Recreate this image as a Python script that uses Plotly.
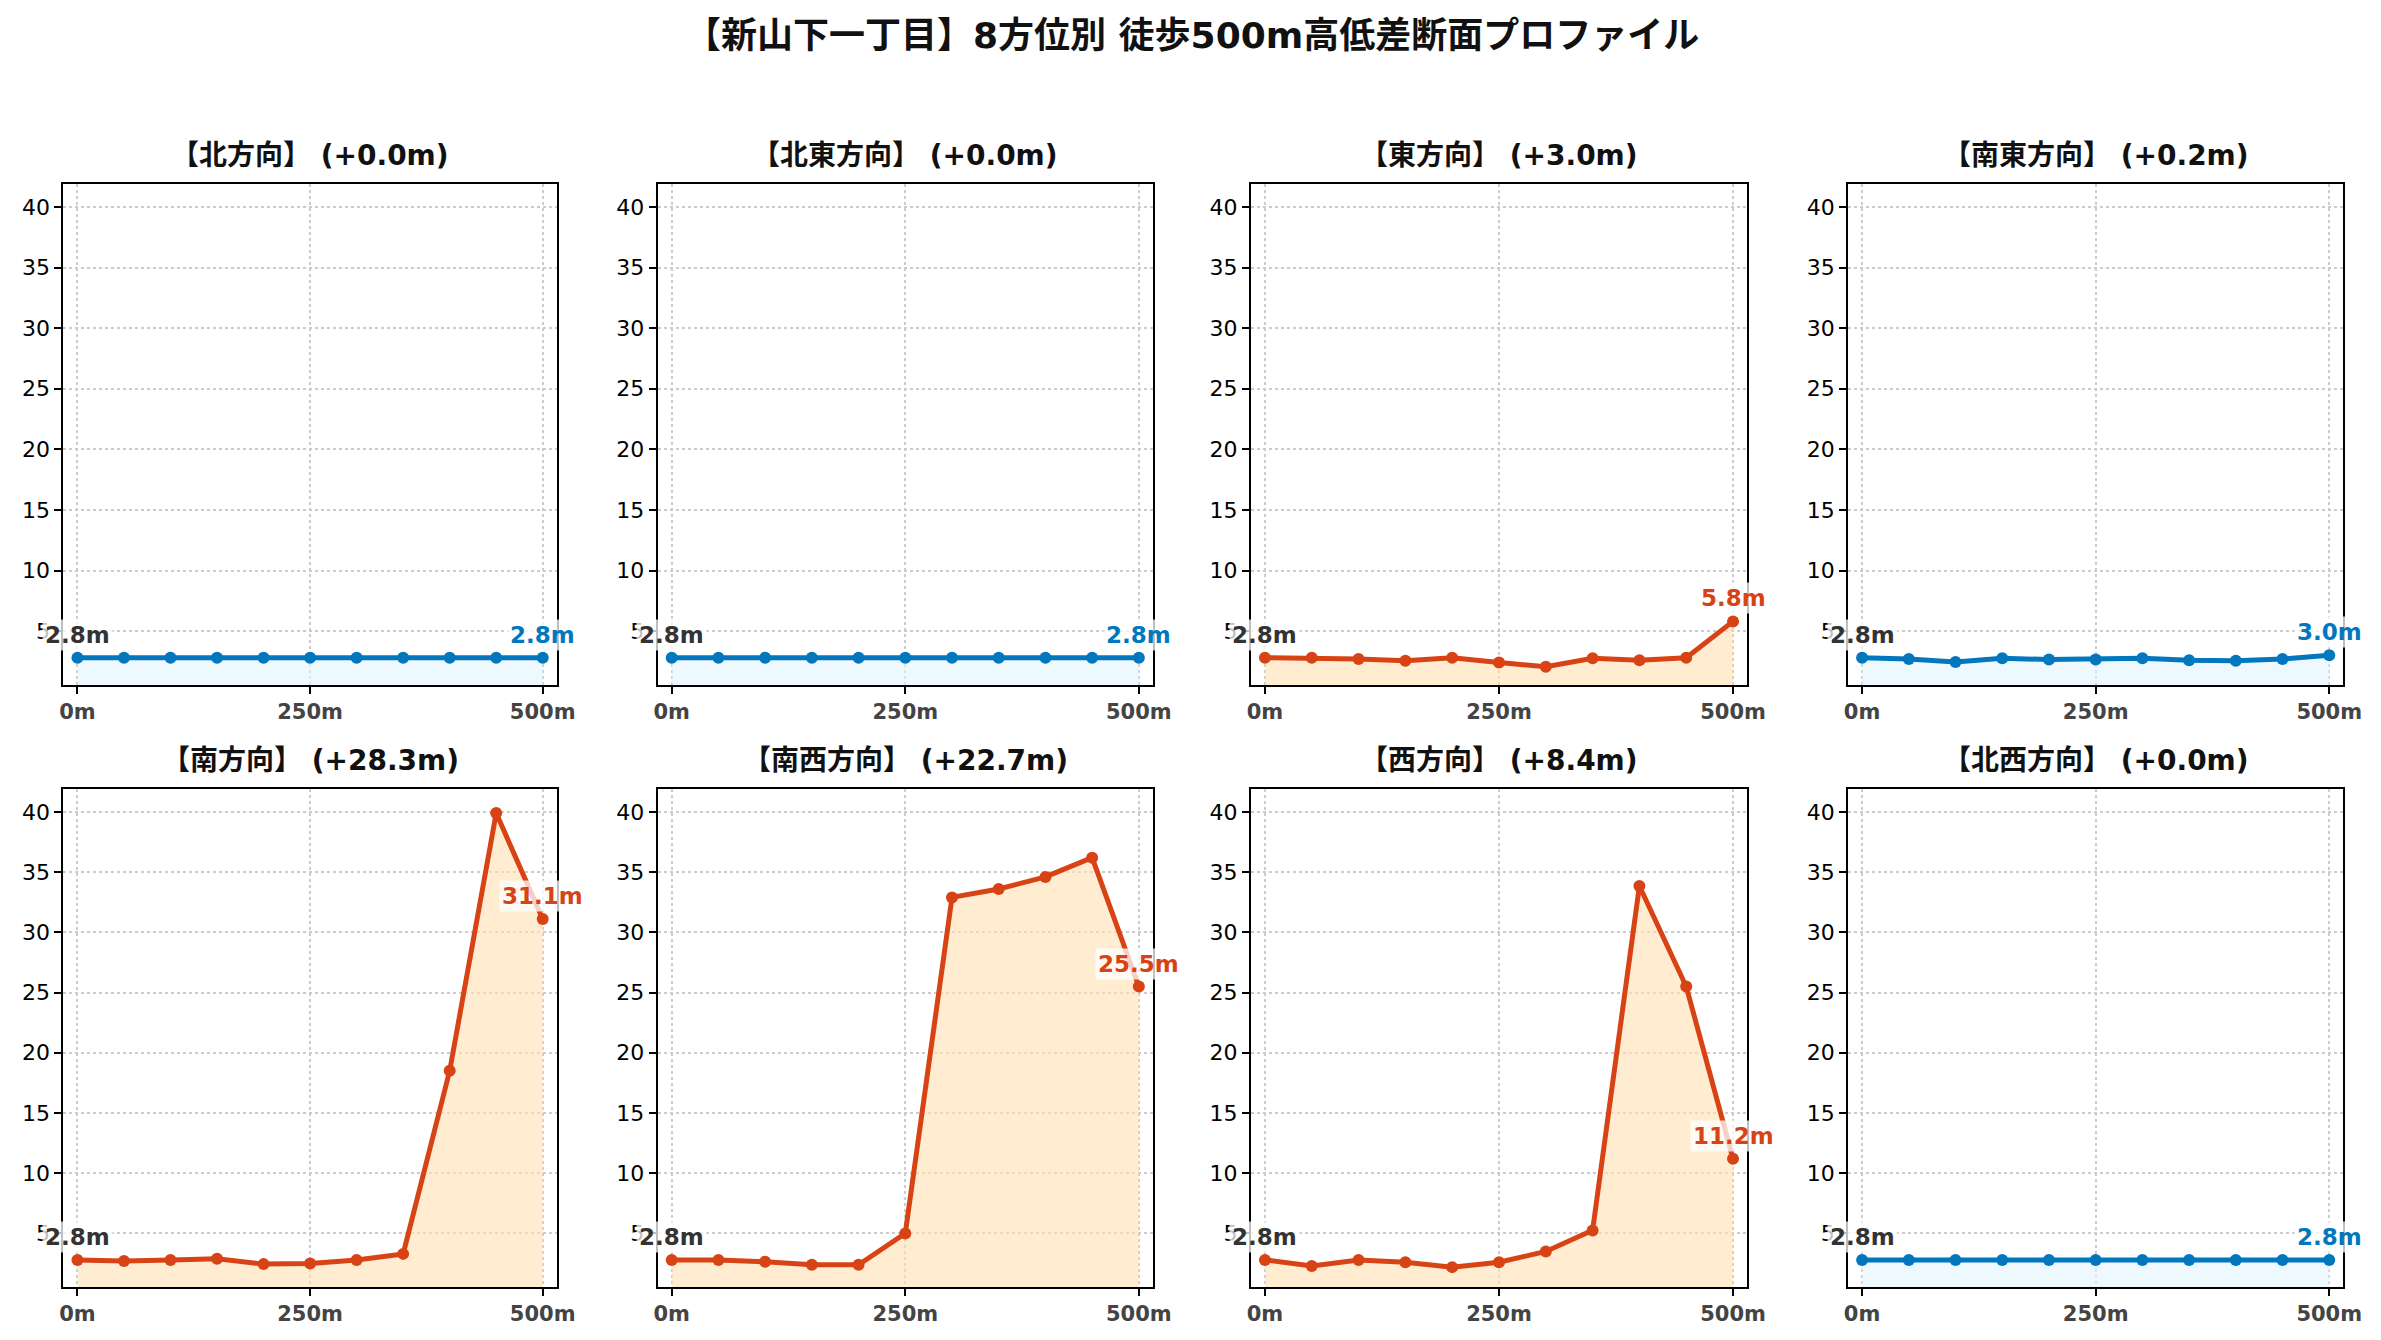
import plotly.graph_objects as go

# Distances along each walking line (m)
distances = [0, 50, 100, 150, 200, 250, 300, 350, 400, 450, 500]

# Elevation (m)
north = [2.8, 2.8, 2.8, 2.8, 2.8, 2.8, 2.8, 2.8, 2.8, 2.8, 2.8]
northeast = [2.8, 2.8, 2.8, 2.8, 2.8, 2.8, 2.8, 2.8, 2.8, 2.8, 2.8]
east = [2.8, 2.8, 2.7, 2.55, 2.8, 2.4, 2.05, 2.75, 2.6, 2.8, 5.8]
southeast = [2.8, 2.7, 2.45, 2.75, 2.65, 2.65, 2.75, 2.6, 2.55, 2.7, 3.0]
south = [2.8, 2.7, 2.8, 2.9, 2.45, 2.5, 2.8, 3.3, 18.5, 39.9, 31.1]
southwest = [2.8, 2.8, 2.65, 2.4, 2.4, 5.0, 32.9, 33.6, 34.6, 36.2, 25.5]
west = [2.8, 2.3, 2.8, 2.6, 2.2, 2.6, 3.5, 5.25, 33.85, 25.5, 11.2]
northwest = [2.8, 2.8, 2.8, 2.8, 2.8, 2.8, 2.8, 2.8, 2.8, 2.8, 2.8]

direction_names = ["北", "北東", "東", "南東", "南", "南西", "西", "北西"]
profiles = [north, northeast, east, southeast, south, southwest, west, northwest]

x_tickvals = [0, 250, 500]
x_ticktext = ["0m", "250m", "500m"]
y_tickvals = [5, 10, 15, 20, 25, 30, 35, 40]

title_text = "【新山下一丁目】8方位別 徒歩500m高低差断面プロファイル"

FONT = "DejaVu Sans, Noto Sans CJK JP, sans-serif"
UP_LINE = "#D84315"
UP_FILL = "rgba(255, 224, 178, 0.6)"
FLAT_LINE = "#0277BD"
FLAT_FILL = "rgba(225, 245, 254, 0.6)"

W, H = 2381, 1340
PAGE_OFFSET = 8  # default body margin of the html page


def px_x(px):
    return (px - PAGE_OFFSET) / W


def px_y(py):
    return 1 - (py - PAGE_OFFSET) / H


# panel placement in screen pixels
col_px = [(60, 558), (660, 1160), (1259, 1760), (1862, 2362)]
row_px = [(184, 685), (789, 1287)]

fig = go.Figure()
annotations = []

for i, (name, elev) in enumerate(zip(direction_names, profiles)):
    row, col = divmod(i, 4)
    n = i + 1
    xname = "x" if n == 1 else f"x{n}"
    yname = "y" if n == 1 else f"y{n}"

    gain = elev[-1] - elev[0]
    if gain >= 1.0:
        line_color, fill_color = UP_LINE, UP_FILL
    else:
        line_color, fill_color = FLAT_LINE, FLAT_FILL

    fig.add_trace(go.Scatter(
        x=distances,
        y=elev,
        mode="lines+markers",
        line=dict(color=line_color, width=5),
        marker=dict(color=line_color, size=12),
        fill="tozeroy",
        fillcolor=fill_color,
        xaxis=xname,
        yaxis=yname,
        showlegend=False,
    ))

    dom_x = [px_x(col_px[col][0]), px_x(col_px[col][1])]
    dom_y = [px_y(row_px[row][1]), px_y(row_px[row][0])]

    fig.update_layout({
        ("xaxis" if n == 1 else f"xaxis{n}"): dict(
            domain=dom_x, anchor=yname, range=[-15, 515],
            tickvals=x_tickvals, ticktext=x_ticktext,
            tickfont=dict(family=FONT, size=21, color="#444444", weight="bold"),
            showline=True, mirror=True, linecolor="black", linewidth=2,
            ticks="outside", ticklen=7, tickwidth=1.5, tickcolor="black",
            showgrid=True, gridcolor="#cccccc", gridwidth=1.5, griddash="dot",
            zeroline=False,
        ),
        ("yaxis" if n == 1 else f"yaxis{n}"): dict(
            domain=dom_y, anchor=xname, range=[0.55, 41.9],
            tickvals=y_tickvals,
            tickfont=dict(family=FONT, size=22, color="black"),
            showline=True, mirror=True, linecolor="black", linewidth=2,
            ticks="outside", ticklen=7, tickwidth=1.5, tickcolor="black",
            showgrid=True, gridcolor="#cccccc", gridwidth=1.5, griddash="dot",
            zeroline=False,
        ),
    })

    # panel title
    annotations.append(dict(
        text=f"【{name}方向】 (+{gain:.1f}m)",
        x=(dom_x[0] + dom_x[1]) / 2, y=dom_y[1], xref="paper", yref="paper",
        xanchor="center", yanchor="bottom", yshift=10, showarrow=False,
        font=dict(family=FONT, size=28, color="#111111", weight="bold"),
    ))

    # start / end elevation labels
    annotations.append(dict(
        text=f"{elev[0]:.1f}m", x=distances[0], y=elev[0], xref=xname, yref=yname,
        xanchor="center", yanchor="bottom", yshift=7, showarrow=False,
        font=dict(family=FONT, size=23, color="#333333", weight="bold"),
        bgcolor="rgba(255,255,255,0.75)", borderpad=2,
    ))
    annotations.append(dict(
        text=f"{elev[-1]:.1f}m", x=distances[-1], y=elev[-1], xref=xname, yref=yname,
        xanchor="center", yanchor="bottom", yshift=7, showarrow=False,
        font=dict(family=FONT, size=23, color=line_color, weight="bold"),
        bgcolor="rgba(255,255,255,0.75)", borderpad=2,
    ))

# overall title
annotations.append(dict(
    text=title_text, x=px_x(1200), y=px_y(36), xref="paper", yref="paper",
    xanchor="center", yanchor="middle", showarrow=False,
    font=dict(family=FONT, size=36, color="#111111", weight="bold"),
))

fig.update_layout(
    width=W,
    height=H,
    margin=dict(l=0, r=0, t=0, b=0),
    paper_bgcolor="white",
    plot_bgcolor="white",
    annotations=annotations,
)

fig.write_html("out.html")
